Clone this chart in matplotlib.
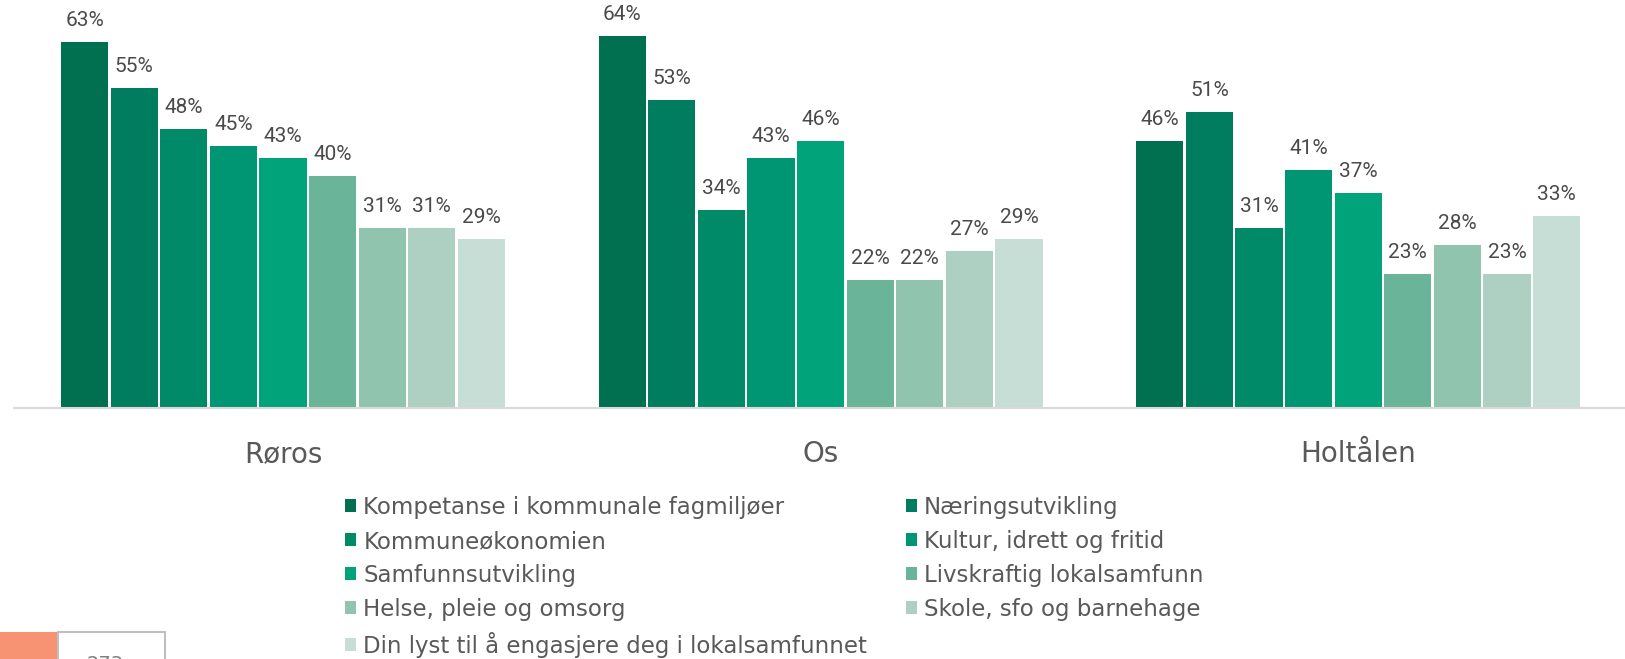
import matplotlib
matplotlib.use('Agg')
import matplotlib.pyplot as plt
from matplotlib.patches import Patch, Rectangle
import numpy as np

# ---- data ----
municipalities = ['Røros', 'Os', 'Holtålen']
categories = [
    'Kompetanse i kommunale fagmiljøer',
    'Næringsutvikling',
    'Kommuneøkonomien',
    'Kultur, idrett og fritid',
    'Samfunnsutvikling',
    'Livskraftig lokalsamfunn',
    'Helse, pleie og omsorg',
    'Skole, sfo og barnehage',
    'Din lyst til å engasjere deg i lokalsamfunnet',
]
roros_values = [63, 55, 48, 45, 43, 40, 31, 31, 29]
os_values = [64, 53, 34, 43, 46, 22, 22, 27, 29]
holtalen_values = [46, 51, 31, 41, 37, 23, 28, 23, 33]
colors = ['#007050', '#007D5E', '#008A68', '#009673', '#00A37A',
          '#6AB49A', '#90C4AE', '#AED0C2', '#C6DED5']
footer_value = '273'

values = [roros_values, os_values, holtalen_values]

W, H = 1625, 659
fig = plt.figure(figsize=(W / 100, H / 100), dpi=100)
ax = fig.add_axes([14 / W, (H - 408) / H, (W - 14) / W, 408 / H])

group_gap = 10.84
group_pos = np.arange(len(municipalities)) * group_gap
for i, cat in enumerate(categories):
    xs = group_pos + i
    vals = [values[g][i] for g in range(len(municipalities))]
    bars = ax.bar(xs, vals, width=0.95, color=colors[i], label=cat)
    for b, v in zip(bars, vals):
        ax.annotate(f'{v}%', (b.get_x() + b.get_width() / 2, v),
                    xytext=(0, 11.5), textcoords='offset points',
                    ha='center', va='baseline', fontsize=15,
                    family='Roboto', color='#4a4a4a')

ax.set_xlim(-1.423, 31.06)
ax.set_ylim(0, 70.2)
for s in ['top', 'left', 'right']:
    ax.spines[s].set_visible(False)
ax.spines['bottom'].set_color('#d9d9d9')
ax.spines['bottom'].set_linewidth(1.5)
ax.set_yticks([])
ax.set_xticks(group_pos + 4)
ax.set_xticklabels(municipalities, fontsize=20, color='#595959')
ax.tick_params(axis='x', length=0, pad=23)

order = [0, 2, 4, 6, 8, 1, 3, 5, 7]
handles = [Patch(facecolor=colors[k], edgecolor='none') for k in order]
labels = [categories[k] for k in order]
fig.legend(handles, labels, loc='upper left',
           bbox_to_anchor=(345 / W, 1 - 496 / H), ncol=2, frameon=False,
           fontsize=16.5, handlelength=0.5, handleheight=0.5,
           handletextpad=0.3, columnspacing=1.68, labelspacing=0.48,
           borderpad=0, borderaxespad=0, labelcolor='#595959')

# bottom-left footer element
fig.patches.append(Rectangle((0, 0), 58 / W, 27 / H, transform=fig.transFigure,
                             facecolor='#F79273', edgecolor='none'))
fig.patches.append(Rectangle((58 / W, -10 / H), 107 / W, 37 / H,
                             transform=fig.transFigure, facecolor='white',
                             edgecolor='#BFBFBF', linewidth=1.5))
fig.text(105 / W, 4 / H, footer_value, ha='center', va='top', fontsize=14,
         color='#7f7f7f')

fig.savefig('out.png', dpi=100)
